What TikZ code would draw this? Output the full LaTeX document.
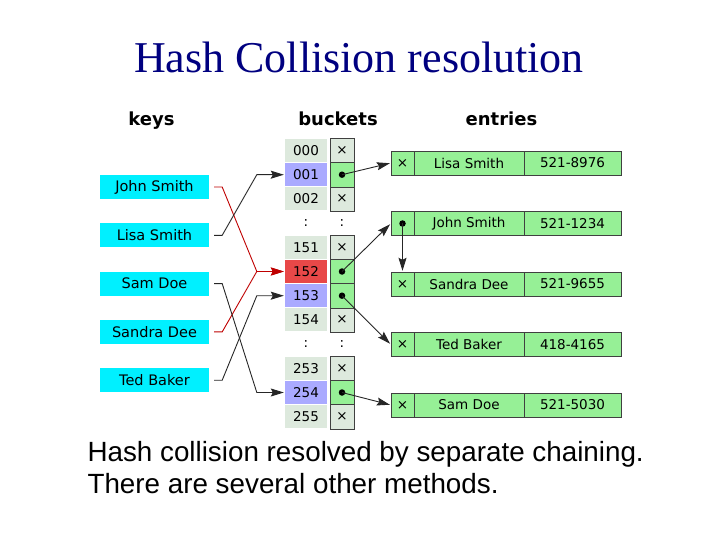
\documentclass[tikz,border=0pt]{standalone}
\usepackage{fontspec}
\setmainfont{Liberation Serif}
\newfontfamily\diagfont{DejaVu Sans}
\newfontfamily\capfont{Liberation Sans}
\usetikzlibrary{arrows.meta}
\definecolor{titlecol}{RGB}{0,0,128}
\definecolor{keycol}{RGB}{0,240,255}
\definecolor{cellcol}{RGB}{221,233,221}
\definecolor{hitcol}{RGB}{170,170,255}
\definecolor{clashcol}{RGB}{232,72,72}
\definecolor{entrycol}{RGB}{150,240,150}
\colorlet{linecol}{black!85}
\colorlet{clashline}{red!75!black}
\colorlet{edgecol}{black!75}
\tikzset{
  every node/.style={font=\diagfont\fontsize{13.5}{16}\selectfont},
  headtext/.style={font=\diagfont\bfseries\fontsize{18}{21}\selectfont, anchor=base},
  keybox/.style={fill=keycol, minimum width=109pt, minimum height=24pt, inner sep=0pt,
    font=\diagfont\fontsize{14.5}{17}\selectfont},
  numcell/.style={fill=#1, minimum width=42pt, minimum height=23pt, inner sep=0pt},
  ptrcell/.style={draw=edgecol, fill=#1, minimum width=24pt, minimum height=24.2pt, inner sep=0pt},
  entrycell/.style={draw=edgecol, fill=entrycol, minimum height=24pt, inner sep=0pt},
  ptrdot/.style={circle, fill=black, inner sep=0pt, minimum size=6.5pt},
  keyline/.style={->, linecol, line width=0.9pt, shorten <=5pt, shorten >=1pt},
  clashlink/.style={->, clashline, line width=0.9pt, shorten <=5pt, shorten >=1pt},
  chain/.style={->, linecol, line width=0.9pt, shorten >=1pt},
}

\begin{document}
\begin{tikzpicture}[x=1pt, y=-1pt, >={Stealth[length=13pt, width=8pt, inset=2pt]}]
  \useasboundingbox (0,0) rectangle (720,540);

  % Title.
  \node[anchor=base, text=titlecol, font=\fontsize{44}{50}\selectfont] (title) at (359,73)
    {Hash Collision resolution};

  % Column heads.
  \node[headtext] (keyshead) at (151.5,126) {keys};
  \node[headtext] (buckhead) at (338,126) {buckets};
  \node[headtext] (entrhead) at (501.5,126) {entries};

  % Keys.
  \foreach \name [count=\k] in {John Smith, Lisa Smith, Sam Doe, Sandra Dee, Ted Baker} {
    \node[keybox] (k\k) at (154.5, {187+48.3*(\k-1)}) {\name};
  }

  % Buckets: number cell and pointer cell per row.
  \foreach \i/\lab/\col/\pcol/\ptxt in {0/000/cellcol/cellcol/×, 1/001/hitcol/entrycol/,
      2/002/cellcol/cellcol/×, 4/151/cellcol/cellcol/×, 5/152/clashcol/entrycol/,
      6/153/hitcol/entrycol/, 7/154/cellcol/cellcol/×, 9/253/cellcol/cellcol/×,
      10/254/hitcol/entrycol/, 11/255/cellcol/cellcol/×} {
    \node[numcell=\col] (b\i) at (306, {150.5+24.2*\i}) {\lab};
    \node[ptrcell=\pcol] (p\i) at (342, {150.5+24.2*\i}) {\ptxt};
  }
  % Skipped rows.
  \foreach \i in {3,8} {
    \node (b\i) at (306, {150.5+24.2*\i}) {:};
    \node (p\i) at (342, {150.5+24.2*\i}) {:};
  }
  \foreach \i in {1,5,6,10}
    \node[ptrdot] (d\i) at (p\i) {};

  % Entries.
  \foreach \name/\tel/\ptxt [count=\j] in {Lisa Smith/521-8976/×, John Smith/521-1234/,
      Sandra Dee/521-9655/×, Ted Baker/418-4165/×, Sam Doe/521-5030/×} {
    \node[entrycell, minimum width=23pt] (ex\j) at (402.5, {163+60.5*(\j-1)}) {\ptxt};
    \node[entrycell, minimum width=110pt] (en\j) at (469, {163+60.5*(\j-1)}) {\name};
    \node[entrycell, minimum width=97pt] (et\j) at (572.5, {163+60.5*(\j-1)}) {\tel};
  }
  \node[ptrdot] (dx2) at (ex2) {};

  % Hash function: keys to buckets.
  \draw[clashlink] (k1.east) -- ++(13,0) -- ([xshift=-28pt]b5.west) -- (b5.west);
  \draw[clashlink] (k4.east) -- ++(13,0) -- ([xshift=-28pt]b5.west) -- (b5.west);
  \draw[keyline] (k2.east) -- ++(13,0) -- ([xshift=-28pt]b1.west) -- (b1.west);
  \draw[keyline] (k3.east) -- ++(13,0) -- ([xshift=-28pt]b10.west) -- (b10.west);
  \draw[keyline] (k5.east) -- ++(13,0) -- ([xshift=-28pt]b6.west) -- (b6.west);

  % Bucket pointers and chain link.
  \draw[chain] (d1.center) -- (ex1.west);
  \draw[chain] (d5.center) -- (ex2.west);
  \draw[chain] (d6.center) -- (ex4.west);
  \draw[chain] (d10.center) -- (ex5.west);
  \draw[chain] (dx2.center) -- (ex3.north);

  % Caption.
  \node[anchor=base west, font=\capfont\fontsize{27.8}{32}\selectfont] (cap1) at (84,461)
    {Hash collision resolved by separate chaining.};
  \node[anchor=base west, font=\capfont\fontsize{27.8}{32}\selectfont] (cap2) at (84,493)
    {There are several other methods.};

\end{tikzpicture}
\end{document}
